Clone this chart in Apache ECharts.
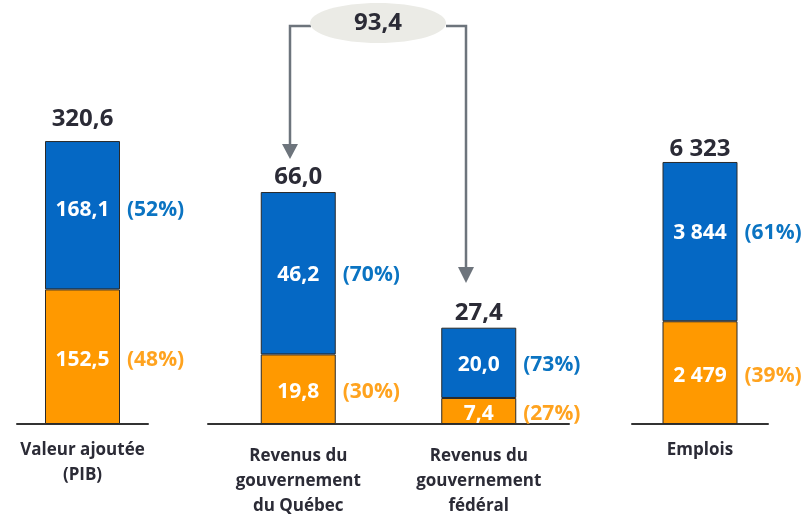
<!DOCTYPE html>
<html>
<head>
<meta charset="utf-8">
<script src="https://cdn.jsdelivr.net/npm/echarts@6/dist/echarts.min.js"></script>
<style>
  html, body { margin: 0; padding: 0; background: #fff; }
  #chart { width: 807px; height: 519px; }
</style>
</head>
<body>
<div id="chart"></div>
<script>
// data, one set per panel
const cats1 = ['Valeur ajoutée\n(PIB)'];
const orange1 = [152.5];
const blue1 = [168.1];
const pctOrange1 = [48];
const pctBlue1 = [52];

const cats2 = ['Revenus du\ngouvernement\ndu Québec', 'Revenus du\ngouvernement\nfédéral'];
const orange2 = [19.8, 7.4];
const blue2 = [46.2, 20.0];
const pctOrange2 = [30, 27];
const pctBlue2 = [70, 73];

const cats3 = ['Emplois'];
const orange3 = [2479];
const blue3 = [3844];
const pctOrange3 = [39];
const pctBlue3 = [61];

const FONT = '"Open Sans", Lato, sans-serif';
const DARK = '#2b2b36';
const BLUE = '#0568c4';
const ORANGE = '#ff9900';
const BLUE_TXT = '#0b74c2';
const ORANGE_TXT = '#ffa31f';

const fmtDec = v => v.toFixed(1).replace('.', ',');
const fmtInt = v => Math.round(v).toString().replace(/\B(?=(\d{3})+(?!\d))/g, ' ');

// builds the 5 series of one panel (2 visible stacks, 2 ghost for % labels, 1 ghost for total)
function panelSeries(idx, orange, blue, pctO, pctB, fmt, topDist, blueShift) {
  const total = orange.map((v, i) => v + blue[i]);
  const base = {
    type: 'bar', xAxisIndex: idx, yAxisIndex: idx, barWidth: 75, barGap: '-100%',
    animation: false, silent: true
  };
  const inside = (dy) => ({
    show: true, position: 'inside', color: '#fff', fontFamily: FONT, offset: [0, dy],
    fontWeight: 'bold', fontSize: 21, formatter: p => fmt(p.value)
  });
  const ghost = { color: 'rgba(0,0,0,0)', borderWidth: 0 };
  return [
    Object.assign({}, base, {
      stack: 'v' + idx, data: orange,
      itemStyle: { color: ORANGE, borderColor: '#2a2a2a', borderWidth: 1 },
      label: inside(3)
    }),
    Object.assign({}, base, {
      stack: 'v' + idx, data: blue,
      itemStyle: { color: BLUE, borderColor: '#2a2a2a', borderWidth: 1 },
      label: inside(blueShift)
    }),
    Object.assign({}, base, {
      stack: 'p' + idx, z: 3,
      data: orange, itemStyle: ghost,
      label: {
        show: true, position: 'right', distance: 7, color: ORANGE_TXT, fontFamily: FONT,
        offset: [0, 3],
        fontWeight: 'bold', fontSize: 21, formatter: p => '(' + pctO[p.dataIndex] + '%)'
      }
    }),
    Object.assign({}, base, {
      stack: 'p' + idx, z: 3,
      data: blue, itemStyle: ghost,
      label: {
        show: true, position: 'right', distance: 7, color: BLUE_TXT, fontFamily: FONT,
        offset: [0, blueShift],
        fontWeight: 'bold', fontSize: 21, formatter: p => '(' + pctB[p.dataIndex] + '%)'
      }
    }),
    Object.assign({}, base, {
      stack: 't' + idx, data: total, z: 3, itemStyle: ghost,
      label: {
        show: true, position: 'top', distance: topDist, color: DARK, fontFamily: FONT,
        fontWeight: 'bold', fontSize: 24, formatter: p => fmt(p.value)
      }
    })
  ];
}

function xAxis(idx, cats, margin) {
  return {
    type: 'category', gridIndex: idx, data: cats,
    axisLine: { lineStyle: { color: '#333', width: 2 } },
    axisTick: { show: false },
    axisLabel: {
      interval: 0, margin: margin, color: DARK, fontFamily: FONT,
      fontWeight: 'bold', fontSize: 17, lineHeight: 25
    }
  };
}
function yAxis(idx, max) {
  return {
    type: 'value', gridIndex: idx, min: 0, max: max, show: false,
    splitLine: { show: false }
  };
}

const chart = echarts.init(document.getElementById('chart'));
const fedTotal = orange2[0] + blue2[0] + orange2[1] + blue2[1];

chart.setOption({
  backgroundColor: '#fff',
  grid: [
    { left: 17, width: 131, top: 30, bottom: 95 },
    { left: 208, width: 361, top: 30, bottom: 95 },
    { left: 632, width: 136, top: 30, bottom: 95 }
  ],
  xAxis: [xAxis(0, cats1, 14), xAxis(1, cats2, 20), xAxis(2, cats3, 14)],
  yAxis: [yAxis(0, 446.4), yAxis(1, 112.1), yAxis(2, 9508)],
  series: [].concat(
    panelSeries(0, orange1, blue1, pctOrange1, pctBlue1, fmtDec, 10, -5),
    panelSeries(1, orange2, blue2, pctOrange2, pctBlue2, fmtDec, 3, 2),
    panelSeries(2, orange3, blue3, pctOrange3, pctBlue3, fmtInt, 1, -9)
  ),
  graphic: [
    { type: 'polyline', shape: { points: [[311, 26], [290, 26], [290, 146]] },
      style: { stroke: '#6d747c', lineWidth: 2.5, fill: null } },
    { type: 'polygon', shape: { points: [[282, 144], [298, 144], [290, 159]] },
      style: { fill: '#6d747c' } },
    { type: 'polyline', shape: { points: [[446, 26], [466, 26], [466, 268]] },
      style: { stroke: '#6d747c', lineWidth: 2.5, fill: null } },
    { type: 'polygon', shape: { points: [[458, 267], [474, 267], [466, 283]] },
      style: { fill: '#6d747c' } },
    { type: 'ellipse', shape: { cx: 378, cy: 23, rx: 68, ry: 20 },
      style: { fill: '#ebebe6' } },
    { type: 'text', x: 378, y: 23,
      style: { text: fmtDec(fedTotal), fill: DARK, font: 'bold 24px ' + FONT,
        textAlign: 'center', textVerticalAlign: 'middle' } }
  ]
});
</script>
</body>
</html>
